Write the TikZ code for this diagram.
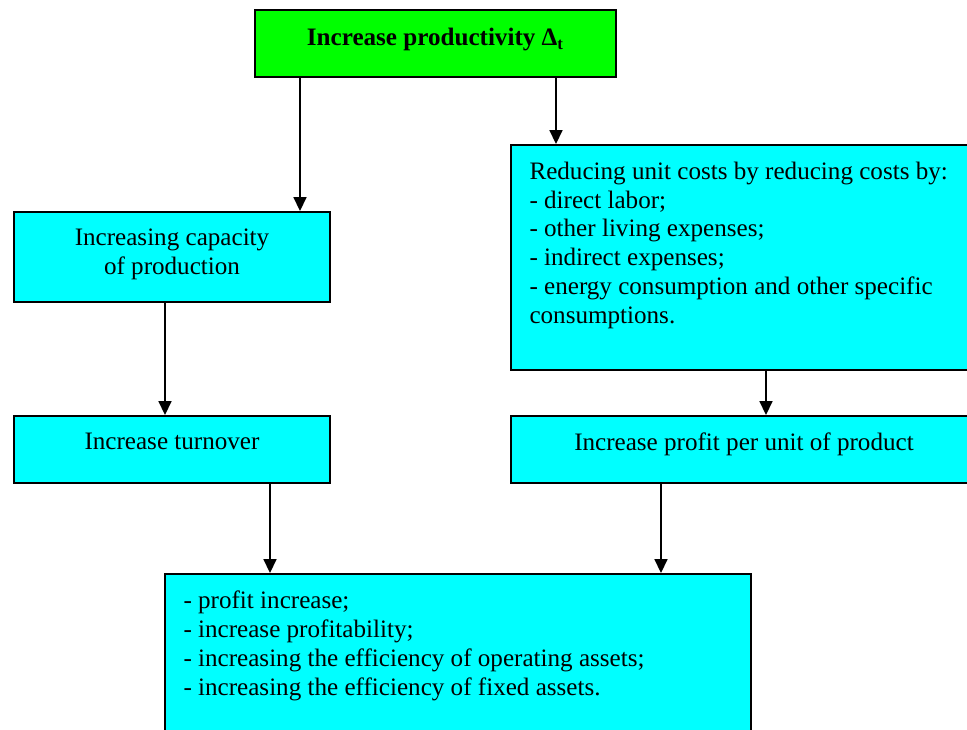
\documentclass[tikz,border=0pt]{standalone}
\usepackage{fontspec}
\setmainfont{Liberation Serif}
\usepackage{tikz}
\usetikzlibrary{positioning,fit,arrows.meta}

\begin{document}
\begin{tikzpicture}[x=0.0168cm,y=-0.0168cm,
  box/.style={draw=black,line width=0.9pt,inner sep=0pt},
  txt/.style={inner sep=0pt,font=\fontsize{12}{13.8}\selectfont},
  arr/.style={line width=0.9pt,-{Triangle[length=6.7pt,width=6.2pt]}}]
\useasboundingbox (0,0) rectangle (967,730);
\clip (0,0) rectangle (967,730);
\definecolor{topColor}{RGB}{0,255,0}
\definecolor{boxColor}{RGB}{0,255,255}
\node[box,fill=topColor,fit={(255,10) (616,77)}] (incr) {};
\node[txt,font=\fontsize{12}{13.8}\selectfont\bfseries,anchor=base] (incrT) at ([yshift=-0.03cm]incr.center) {Increase productivity Δ\textsubscript{t}};
\node[box,fill=boxColor,fit={(14,212) (330,302)}] (cap) {};
\node[txt,align=center,anchor=north,below=0.29cm of cap.north] (capT) {Increasing capacity\\of production};
\node[box,fill=boxColor,fit={(14,416) (330,483)}] (turn) {};
\node[txt,anchor=north,below=0.29cm of turn.north] (turnT) {Increase turnover};
\node[box,fill=boxColor,fit={(511,145) (977,370)}] (cost) {};
\node[txt,align=left,anchor=north west,below right=0.29cm and 0.32cm of cost.north west] (costT) {Reducing unit costs by reducing costs by:\\- direct labor;\\- other living expenses;\\- indirect expenses;\\- energy consumption and other specific\\consumptions.};
\node[box,fill=boxColor,fit={(511,416) (977,483)}] (prof) {};
\node[txt,anchor=north,below=0.29cm of prof.north] (profT) {Increase profit per unit of product};
\node[box,fill=boxColor,fit={(165,574) (751,760)}] (eff) {};
\node[txt,align=left,anchor=north west,below right=0.29cm and 0.32cm of eff.north west] (effT) {- profit increase;\\- increase profitability;\\- increasing the efficiency of operating assets;\\- increasing the efficiency of fixed assets.};
\coordinate (xa) at (300,0);
\coordinate (xb) at (556,0);
\coordinate (xc) at (165,0);
\coordinate (xd) at (766,0);
\coordinate (xe) at (270,0);
\coordinate (xf) at (661,0);
\draw[arr] (incr.south -| xa) -- (cap.north -| xa);
\draw[arr] (incr.south -| xb) -- (cost.north -| xb);
\draw[arr] (cap.south -| xc) -- (turn.north -| xc);
\draw[arr] (cost.south -| xd) -- (prof.north -| xd);
\draw[arr] (turn.south -| xe) -- (eff.north -| xe);
\draw[arr] (prof.south -| xf) -- (eff.north -| xf);
\end{tikzpicture}
\end{document}
